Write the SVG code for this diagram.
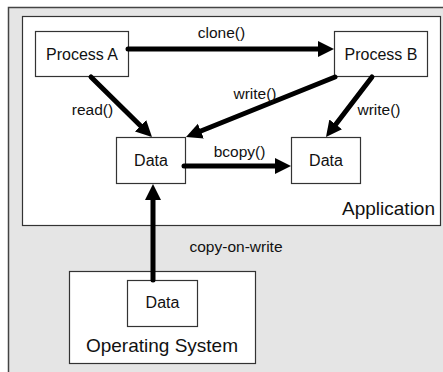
<svg xmlns="http://www.w3.org/2000/svg" width="443" height="372" viewBox="0 0 443 372">
  <style>
    .box { fill: #ffffff; stroke: #333333; stroke-width: 1.2; }
    .frame { fill: #e5e5e5; stroke: #444444; stroke-width: 1.5; }
    .name { font-family: "Liberation Sans", Arial, sans-serif; font-size: 16px; fill: #111111; text-anchor: middle; }
    .big { font-family: "Liberation Sans", Arial, sans-serif; font-size: 19px; fill: #111111; }
    .lbl { font-family: "Liberation Sans", Arial, sans-serif; font-size: 15.5px; fill: #111111; text-anchor: middle; }
    .edge { fill: none; stroke: #000000; stroke-width: 5; stroke-linecap: round; marker-end: url(#head); }
  </style>
  <defs>
    <marker id="head" markerUnits="userSpaceOnUse" markerWidth="18" markerHeight="18" refX="2" refY="8" orient="auto">
      <path d="M0,0 L16,8 L0,16 z" fill="#000000"/>
    </marker>
  </defs>

  <!-- machine frame -->
  <g id="system">
    <rect class="frame" x="8.5" y="7.5" width="440" height="370"/>
  </g>

  <!-- application area -->
  <g id="application">
    <rect class="box" x="22.5" y="16.5" width="418" height="209"/>
    <text class="big" x="435" y="215" text-anchor="end">Application</text>
  </g>

  <g id="process-a">
    <rect class="box" x="35.5" y="31.5" width="93" height="45"/>
    <text class="name" x="82" y="60">Process A</text>
  </g>

  <g id="process-b">
    <rect class="box" x="334.5" y="31.5" width="93" height="45"/>
    <text class="name" x="381" y="60">Process B</text>
  </g>

  <g id="data-shared">
    <rect class="box" x="116.5" y="137.5" width="69" height="46"/>
    <text class="name" x="151" y="166">Data</text>
  </g>

  <g id="data-copy">
    <rect class="box" x="291.5" y="137.5" width="69" height="46"/>
    <text class="name" x="326" y="166">Data</text>
  </g>

  <g id="operating-system">
    <rect class="box" x="69.5" y="271.5" width="186" height="92"/>
    <text class="big" x="162" y="352" text-anchor="middle">Operating System</text>
  </g>

  <g id="data-os">
    <rect class="box" x="127.5" y="280.5" width="70" height="46"/>
    <text class="name" x="162.5" y="308">Data</text>
  </g>

  <!-- connectors -->
  <g id="connectors">
    <line class="edge" x1="128" y1="49" x2="320" y2="49"/>
    <line class="edge" x1="91" y1="77" x2="142" y2="127.2"/>
    <line class="edge" x1="335" y1="77" x2="199" y2="131.8"/>
    <line class="edge" x1="372" y1="77" x2="334.5" y2="125.9"/>
    <line class="edge" x1="184" y1="166" x2="277" y2="166"/>
    <line class="edge" x1="153" y1="280" x2="153" y2="198"/>
    <text class="lbl" x="221.5" y="38">clone()</text>
    <text class="lbl" x="92.5" y="115">read()</text>
    <text class="lbl" x="255" y="99">write()</text>
    <text class="lbl" x="379" y="115">write()</text>
    <text class="lbl" x="239.5" y="157">bcopy()</text>
    <text class="lbl" x="236" y="252">copy-on-write</text>
  </g>
</svg>
